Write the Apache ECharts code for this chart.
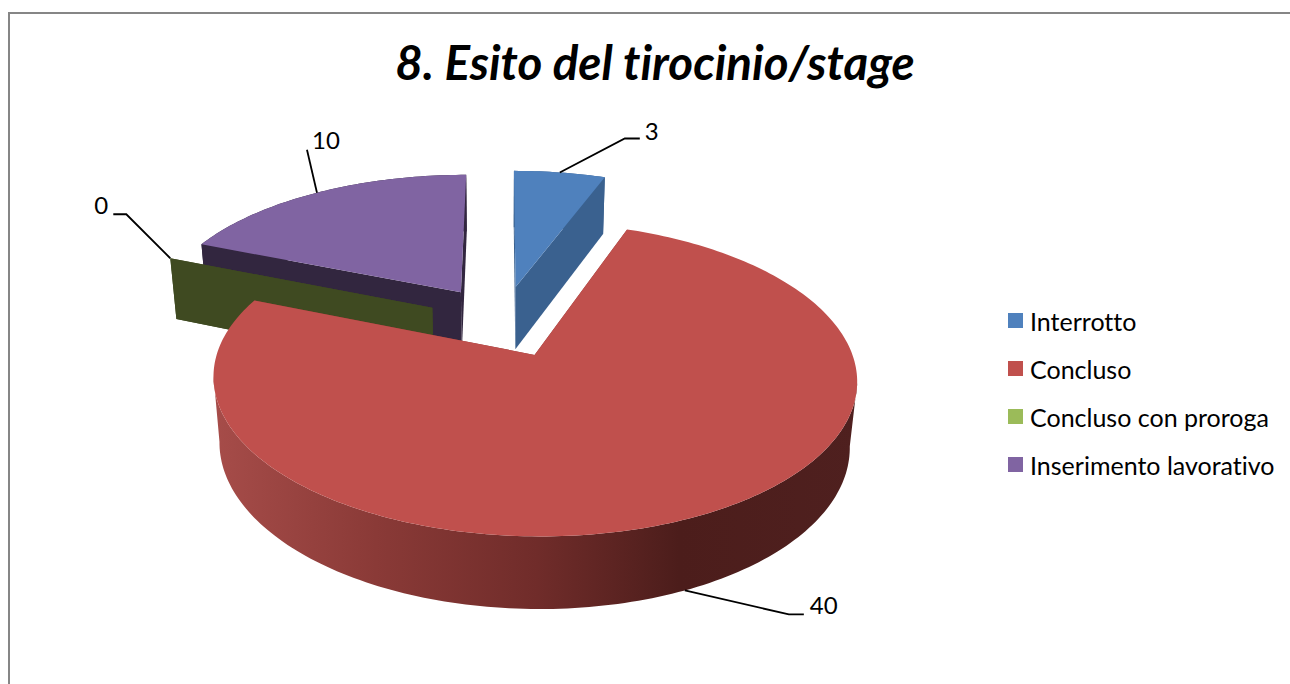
<!DOCTYPE html>
<html>
<head>
<meta charset="utf-8">
<style>
  html, body { margin: 0; padding: 0; background: #fff; }
  #chart { width: 1290px; height: 684px; }
  #chart text { font-variant-ligatures: none; }
</style>
<script src="https://cdn.jsdelivr.net/npm/echarts@6/dist/echarts.min.js"></script>
</head>
<body>
<div id="chart"></div>
<script>
const categories = ['Interrotto', 'Concluso', 'Concluso con proroga', 'Inserimento lavorativo'];
const values = [3, 40, 0, 10];

const topColors = ['#4f81bd', '#c0504d', '#9bbb59', '#8064a2'];
const faceColors = ['#3a618f', '#8c3836', '#3f4a21', '#32263f'];
const drawOrder = [3, 2, 0, 1];

// fake 3d camera: plane coords -> screen
const cam = { cx: 502.5, cy: 321, a: 307, b: 143, depth: 65, persp: 0.15, shrink: 0.02 };
const explode = 0.25;

// leader line: dx, dy to the elbow, then the tail, then the label offset from the tail
const leaders = [
  { h: 0, elbow: [65, -34], tail: 15, label: [5, -8], align: 'left' },
  { h: 1, elbow: [104, 24], tail: 15, label: [6, -10], align: 'left' },
  { h: 0, elbow: [-44, -44], tail: -13, label: [-5, -10], align: 'right' },
  { h: 0, elbow: [-10, -43], tail: 0, label: [5, -10], align: 'left' }
];

const total = values.reduce((a, b) => a + b, 0);
const startAngles = [];
values.reduce((acc, v, i) => {
  startAngles[i] = acc;
  return acc + (v / total) * Math.PI * 2;
}, 0);

function project(u, v, h) {
  const w = 1 - cam.persp * v + cam.shrink * h;
  return [cam.cx + (cam.a * u) / w, cam.cy + (cam.b * v + cam.depth * h) / w];
}

// index of the rim points that are furthest right and furthest left
function extremes(points) {
  let right = 0;
  let left = 0;
  points.forEach((p, i) => {
    if (p[0] > points[right][0]) right = i;
    if (p[0] < points[left][0]) left = i;
  });
  return [Math.min(right, left), Math.max(right, left)];
}

function renderSlice(idx, api) {
  const value = api.value(0);
  const t0 = startAngles[idx];
  const t1 = t0 + (value / total) * Math.PI * 2;
  const mid = (t0 + t1) / 2;
  const ou = explode * Math.sin(mid);
  const ov = -explode * Math.cos(mid);
  const rim = (t, h) => project(ou + Math.sin(t), ov - Math.cos(t), h);
  const apex = (h) => project(ou, ov, h);

  const steps = Math.max(1, Math.ceil((t1 - t0) / 0.02));
  const topRim = [];
  const lowRim = [];
  for (let i = 0; i <= steps; i++) {
    const t = t0 + ((t1 - t0) * i) / steps;
    topRim.push(rim(t, 0));
    lowRim.push(rim(t, 1));
  }

  const wallFill = idx === 1
    ? new echarts.graphic.LinearGradient(215, 0, 860, 0, [
        { offset: 0, color: '#a64c49' },
        { offset: 0.25, color: '#8a3a37' },
        { offset: 0.5, color: '#702c2a' },
        { offset: 0.72, color: '#4c1d1b' },
        { offset: 1, color: '#4f201f' }
      ], true)
    : faceColors[idx];

  const children = [];
  if (value > 0) {
    // only the side facing us, the whole strip would cancel itself where the rim folds over
    const a = extremes(topRim);
    const b = extremes(lowRim);
    const front = topRim.slice(a[0], a[1] + 1).concat(lowRim.slice(b[0], b[1] + 1).reverse());
    children.push({ type: 'polygon', shape: { points: front }, style: { fill: wallFill } });
  }
  [t0, t1].forEach((t) => {
    children.push({
      type: 'polygon',
      shape: { points: [apex(0), rim(t, 0), rim(t, 1), apex(1)] },
      style: { fill: faceColors[idx] }
    });
  });
  if (value > 0) {
    children.push({
      type: 'polygon',
      shape: { points: [apex(0)].concat(topRim) },
      style: { fill: topColors[idx] }
    });
  }

  const ld = leaders[idx];
  const p0 = rim(mid, ld.h);
  const p1 = [p0[0] + ld.elbow[0], p0[1] + ld.elbow[1]];
  const p2 = [p1[0] + ld.tail, p1[1]];
  children.push({
    type: 'polyline',
    shape: { points: [p0, p1, p2] },
    style: { fill: null, stroke: '#000', lineWidth: 1.8 },
    z2: 10
  });
  children.push({
    type: 'text',
    style: {
      text: String(value),
      x: p2[0] + ld.label[0],
      y: p2[1] + ld.label[1],
      align: ld.align,
      verticalAlign: 'middle',
      font: '24px Lato',
      fill: '#000'
    },
    z2: 10
  });
  return { type: 'group', children: children };
}

const chart = echarts.init(document.getElementById('chart'), null, { renderer: 'svg' });
chart.setOption({
  animation: false,
  backgroundColor: '#fff',
  title: {
    text: '8. Esito del tirocinio/stage',
    left: 650,
    top: 32,
    textAlign: 'center',
    textStyle: { fontFamily: 'Lato', fontWeight: 'bold', fontStyle: 'italic', fontSize: 47.5, color: '#000' }
  },
  legend: {
    orient: 'vertical',
    left: 1008,
    top: 308,
    padding: 0,
    icon: 'rect',
    itemWidth: 15,
    itemHeight: 15,
    itemGap: 23,
    data: categories,
    textStyle: { fontFamily: 'Lato', fontSize: 25, color: '#000', padding: [0, 0, 4, 2] }
  },
  graphic: [
    {
      type: 'polyline',
      shape: { points: [[9, 684], [9, 13], [1290, 13]] },
      style: { fill: null, stroke: '#868686', lineWidth: 2 }
    }
  ],
  series: categories.map((name, i) => ({
    type: 'custom',
    name: name,
    coordinateSystem: 'none',
    z: 2 + drawOrder.indexOf(i),
    silent: true,
    itemStyle: { color: topColors[i] },
    data: [[values[i]]],
    renderItem: (params, api) => renderSlice(i, api)
  }))
});
window.addEventListener('resize', () => chart.resize());
</script>
</body>
</html>
